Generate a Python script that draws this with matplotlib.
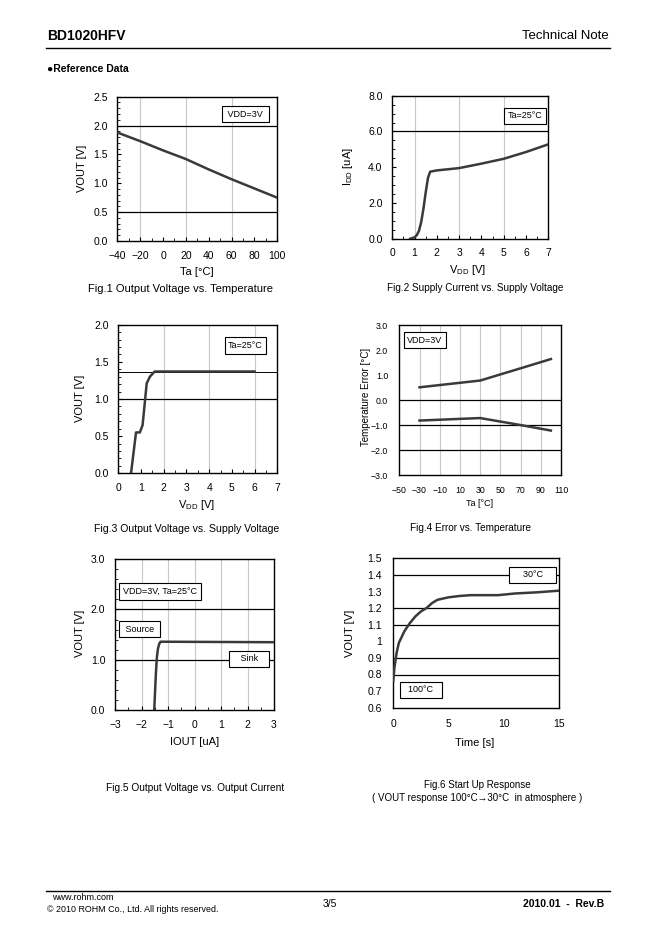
import numpy as np
import matplotlib.pyplot as plt
from matplotlib.ticker import MultipleLocator, FixedLocator

plt.rcParams['font.family'] = ['Liberation Sans', 'DejaVu Sans']
plt.rcParams['mathtext.fontset'] = 'custom'
plt.rcParams['mathtext.rm'] = 'Liberation Sans'

W, H = 662, 936
CURVE = '#3a3a3a'

# Fig.1 Output Voltage vs. Temperature
ta1 = [-40, -20, 0, 20, 40, 60, 80, 100]
vout1 = [1.88, 1.73, 1.57, 1.42, 1.24, 1.07, 0.91, 0.75]

# Fig.2 Supply Current vs. Supply Voltage
vdd2 = [0.8, 1.0, 1.1, 1.2, 1.3, 1.4, 1.5, 1.6, 1.7, 2.0, 3.0, 4.0, 5.0, 6.0, 7.0]
idd2 = [0.0, 0.08, 0.2, 0.45, 0.95, 1.7, 2.6, 3.4, 3.75, 3.82, 3.95, 4.2, 4.47, 4.85, 5.28]

# Fig.3 Output Voltage vs. Supply Voltage
vdd3 = [0.56, 0.78, 0.95, 1.07, 1.25, 1.39, 1.6, 1.7, 6.0]
vout3 = [0.0, 0.55, 0.55, 0.65, 1.21, 1.30, 1.37, 1.37, 1.37]

# Fig.4 Error vs. Temperature
ta4 = [-30, 30, 70, 100]
err_hi = [0.52, 0.79, 1.28, 1.65]
err_lo = [-0.81, -0.71, -0.99, -1.21]
ta4_ticks = [-50, -30, -10, 10, 30, 50, 70, 90, 110]

# Fig.5 Output Voltage vs. Output Current
iout5 = [-1.52, -1.46, -1.42, -1.38, -1.33, -1.28, 3.0]
vout5 = [0.0, 0.7, 1.05, 1.22, 1.32, 1.36, 1.35]

# Fig.6 Start Up Response
t6 = [0, 0.1, 0.3, 0.5, 1.0, 1.5, 2.0, 2.5, 3.0, 3.5, 4.0, 5.0, 6.0, 7.0, 9.5, 11, 13, 15]
vout6 = [0.76, 0.84, 0.93, 0.99, 1.06, 1.11, 1.15, 1.18, 1.20, 1.23, 1.25, 1.265, 1.273, 1.278, 1.278, 1.288, 1.295, 1.305]
v6_ticks = [0.6, 0.7, 0.8, 0.9, 1.0, 1.1, 1.2, 1.3, 1.4, 1.5]

fig = plt.figure(figsize=(W / 100, H / 100), dpi=100)


def px_axes(l, t, r, b):
    return fig.add_axes([l / W, 1 - b / H, (r - l) / W, (b - t) / H])


def px_text(x, y, s, **kw):
    kw.setdefault('ha', 'center')
    kw.setdefault('va', 'center')
    kw.setdefault('fontsize', 8)
    fig.text(x / W, 1 - y / H, s, **kw)


def style(ax, fs=7.5):
    for s in ax.spines.values():
        s.set_linewidth(1.0)
        s.set_color('black')
    ax.tick_params(which='both', direction='in', labelsize=fs, color='black')
    ax.tick_params(which='major', length=3, width=0.8, pad=7)
    ax.tick_params(which='minor', length=2, width=0.6)


def box(ax, x, y, s, ha='left'):
    ax.text(x, y, s, transform=ax.transAxes, fontsize=6.5, ha=ha, va='center',
            bbox=dict(boxstyle='square,pad=0.4', fc='white', ec='black', lw=0.8), zorder=5)


def hlines(ax, ys):
    for y in ys:
        ax.axhline(y, color='black', lw=0.9, zorder=1)


def vgrid(ax, xs):
    for x in xs:
        ax.axvline(x, color='#c8c8c8', lw=0.8, zorder=0)


# header
px_text(47, 36, 'BD1020HFV', ha='left', fontsize=10, fontweight='bold')
px_text(609, 36, 'Technical Note', ha='right', fontsize=9.5)
fig.add_artist(plt.Line2D([46 / W, 610 / W], [1 - 47.5 / H] * 2, color='black', lw=1.0))
px_text(47, 69, '\u25cfReference Data', ha='left', fontsize=7.5, fontweight='bold')

# Fig.1
ax = px_axes(117.3, 96.7, 277.3, 241)
ax.plot(ta1, vout1, color=CURVE, lw=1.8, zorder=3)
ax.set_xlim(-40, 100)
ax.set_ylim(0, 2.5)
ax.xaxis.set_major_locator(MultipleLocator(20))
ax.xaxis.set_minor_locator(MultipleLocator(10))
ax.yaxis.set_major_locator(MultipleLocator(0.5))
ax.yaxis.set_minor_locator(MultipleLocator(0.1))
ax.yaxis.set_major_formatter('{x:.1f}')
hlines(ax, [0.5, 2.0])
vgrid(ax, [-20, 20, 60])
style(ax)
box(ax, 0.80, 0.88, ' VDD=3V ', ha='center')
px_text(197, 272, 'Ta [\u00b0C]')
px_text(82, 168, 'VOUT [V]', rotation=90)
px_text(180, 289, 'Fig.1 Output Voltage vs. Temperature', fontsize=8)

# Fig.2
ax = px_axes(392.3, 95.7, 548.3, 238.7)
ax.plot(vdd2, idd2, color=CURVE, lw=1.8, zorder=3)
ax.set_xlim(0, 7)
ax.set_ylim(0, 8)
ax.xaxis.set_major_locator(MultipleLocator(1))
ax.xaxis.set_minor_locator(MultipleLocator(0.5))
ax.yaxis.set_major_locator(MultipleLocator(2))
ax.yaxis.set_minor_locator(MultipleLocator(0.5))
ax.yaxis.set_major_formatter('{x:.1f}')
hlines(ax, [6.0])
vgrid(ax, [1, 3, 5])
style(ax)
box(ax, 0.85, 0.86, 'Ta=25\u00b0C', ha='center')
px_text(468, 270, 'V$_{\\rm DD}$ [V]')
px_text(348, 167, 'I$_{\\rm DD}$ [uA]', rotation=90)
px_text(475, 288, 'Fig.2 Supply Current vs. Supply Voltage', fontsize=7.2)

# Fig.3
ax = px_axes(118.3, 324.7, 277.3, 473.3)
ax.plot(vdd3, vout3, color=CURVE, lw=1.8, zorder=3)
ax.set_xlim(0, 7)
ax.set_ylim(0, 2.0)
ax.xaxis.set_major_locator(MultipleLocator(1))
ax.xaxis.set_minor_locator(MultipleLocator(0.5))
ax.yaxis.set_major_locator(MultipleLocator(0.5))
ax.yaxis.set_minor_locator(MultipleLocator(0.1))
ax.yaxis.set_major_formatter('{x:.1f}')
hlines(ax, [1.0])
ax.axhline(vout3[-1], color='black', lw=0.7, zorder=1)
vgrid(ax, [2, 4, 6])
style(ax)
box(ax, 0.8, 0.86, 'Ta=25\u00b0C', ha='center')
px_text(197, 505, 'V$_{\\rm DD}$ [V]')
px_text(80, 398, 'VOUT [V]', rotation=90)
px_text(187, 529, 'Fig.3 Output Voltage vs. Supply Voltage', fontsize=7.6)

# Fig.4
ax = px_axes(399.3, 325.3, 561, 475.3)
ax.plot(ta4, err_hi, color=CURVE, lw=1.8, zorder=3)
ax.plot(ta4, err_lo, color=CURVE, lw=1.8, zorder=3)
ax.set_xlim(-50, 110)
ax.set_ylim(-3, 3)
ax.xaxis.set_major_locator(FixedLocator(ta4_ticks))
ax.yaxis.set_major_locator(MultipleLocator(1))
ax.yaxis.set_major_formatter('{x:.1f}')
hlines(ax, [0, -1, -2])
vgrid(ax, [-30, -10, 10, 30, 50, 70, 90])
style(ax, fs=6.3)
ax.tick_params(which='major', length=0, pad=8)
box(ax, 0.05, 0.9, 'VDD=3V')
px_text(480, 504, 'Ta [\u00b0C]', fontsize=6.5)
px_text(366, 397, 'Temperature Error [\u00b0C]', rotation=90, fontsize=7)
px_text(470, 528, 'Fig.4 Error vs. Temperature', fontsize=7.2)

# Fig.5
ax = px_axes(115, 559, 274, 710.3)
ax.plot(iout5, vout5, color=CURVE, lw=1.8, zorder=3)
ax.set_xlim(-3, 3)
ax.set_ylim(0, 3)
ax.xaxis.set_major_locator(MultipleLocator(1))
ax.xaxis.set_minor_locator(MultipleLocator(0.5))
ax.yaxis.set_major_locator(MultipleLocator(1))
ax.yaxis.set_minor_locator(MultipleLocator(0.2))
ax.yaxis.set_major_formatter('{x:.1f}')
hlines(ax, [1.0, 2.0])
vgrid(ax, [-2, -1, 0, 1, 2])
style(ax)
box(ax, 0.05, 0.785, 'VDD=3V, Ta=25\u00b0C')
box(ax, 0.05, 0.535, ' Source ')
box(ax, 0.845, 0.34, '   Sink   ', ha='center')
px_text(195, 742, 'IOUT [uA]')
px_text(80, 633, 'VOUT [V]', rotation=90)
px_text(195, 788, 'Fig.5 Output Voltage vs. Output Current', fontsize=7.3)

# Fig.6
ax = px_axes(393.3, 558.3, 559, 707.7)
ax.plot(t6, vout6, color=CURVE, lw=1.8, zorder=3)
ax.set_xlim(0, 15)
ax.set_ylim(0.6, 1.5)
ax.xaxis.set_major_locator(MultipleLocator(5))
ax.yaxis.set_major_locator(FixedLocator(v6_ticks))
ax.yaxis.set_major_formatter(lambda v, p: f'{v:g}')
hlines(ax, [0.8, 0.9, 1.1, 1.2, 1.4])
style(ax)
ax.tick_params(which='major', length=0, pad=8)
box(ax, 0.72, 0.89, '    30\u00b0C    ')
box(ax, 0.06, 0.12, '  100\u00b0C  ')
px_text(475, 743, 'Time [s]')
px_text(350, 633, 'VOUT [V]', rotation=90)
px_text(477, 785, 'Fig.6 Start Up Response', fontsize=7)
px_text(477, 798, '( VOUT response 100\u00b0C\u219230\u00b0C  in atmosphere )', fontsize=7)

# footer
fig.add_artist(plt.Line2D([46 / W, 610 / W], [1 - 891 / H] * 2, color='black', lw=1.0))
px_text(52, 898, 'www.rohm.com', ha='left', fontsize=6.5)
px_text(47, 910, '\u00a9 2010 ROHM Co., Ltd. All rights reserved.', ha='left', fontsize=6.4)
px_text(330, 904, '3/5', fontsize=7.5)
px_text(604, 904, '2010.01  -  Rev.B', ha='right', fontsize=7.5, fontweight='bold')

fig.savefig('out.png', dpi=100)
